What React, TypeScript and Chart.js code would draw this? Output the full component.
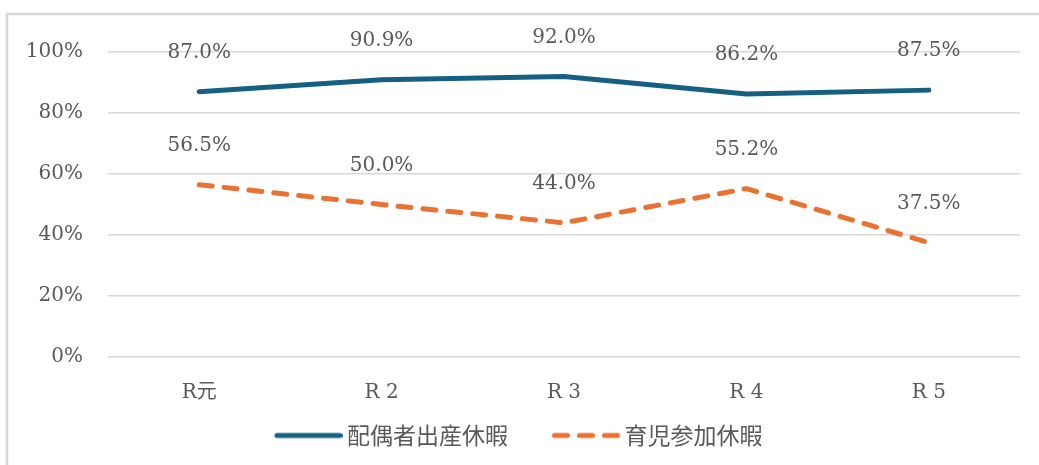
import { useEffect, useRef } from "react";
import { Chart, registerables } from "chart.js";

Chart.register(...registerables);

// Fiscal years (Reiwa era) and take-up rates in percent
const categories = ["R元", "R 2", "R 3", "R 4", "R 5"];
const spouseBirthLeave = [87.0, 90.9, 92.0, 86.2, 87.5];
const childcareLeave = [56.5, 50.0, 44.0, 55.2, 37.5];
const seriesNames = ["配偶者出産休暇", "育児参加休暇"];
const yMin = 0;
const yMax = 100;
const yStep = 20;

const BLUE = "#156082";
const ORANGE = "#E97132";
const TEXT = "#595959";
const GRID = "#D9D9D9";
const SERIF = "'DejaVu Serif', 'Noto Sans CJK JP', serif";
const CJK = "'Noto Sans CJK JP', sans-serif";

const WIDTH = 1039;
const HEIGHT = 465;

const LINE_WIDTH = 5;
const DASH = [13, 12];

// Legend symbol: a short stroke in the series style, drawn into its own canvas.
// The legend centres the image in a box of LEGEND_BOX px; the stroke sits at its right end.
const LEGEND_BOX = 88;
const SYMBOL_LEN = 68;
function makeSymbol(color: string, dash: number[]): HTMLCanvasElement {
  const w = 102;
  const h = 8;
  const c = document.createElement("canvas");
  c.width = w;
  c.height = h;
  const ctx = c.getContext("2d")!;
  ctx.strokeStyle = color;
  ctx.lineWidth = LINE_WIDTH;
  ctx.lineCap = "round";
  ctx.setLineDash(dash);
  ctx.beginPath();
  ctx.moveTo(w - SYMBOL_LEN + LINE_WIDTH / 2, h / 2);
  ctx.lineTo(w - LINE_WIDTH / 2, h / 2);
  ctx.stroke();
  return c;
}

// Light frame along the top and left edges of the chart box
const framePlugin = {
  id: "frame",
  beforeDraw(chart: Chart) {
    const ctx = chart.ctx;
    ctx.save();
    ctx.strokeStyle = GRID;
    ctx.lineWidth = 2.5;
    ctx.beginPath();
    ctx.moveTo(7, HEIGHT);
    ctx.lineTo(7, 14);
    ctx.lineTo(WIDTH, 14);
    ctx.stroke();
    ctx.restore();
  },
};

// Percentage label above every point
const valueLabelPlugin = {
  id: "valueLabels",
  afterDatasetsDraw(chart: Chart) {
    const ctx = chart.ctx;
    ctx.save();
    ctx.font = `20px ${SERIF}`;
    ctx.fillStyle = TEXT;
    ctx.textAlign = "center";
    ctx.textBaseline = "middle";
    chart.data.datasets.forEach((ds, i) => {
      const meta = chart.getDatasetMeta(i);
      meta.data.forEach((pt, j) => {
        const v = ds.data[j] as number;
        ctx.fillText(`${v.toFixed(1)}%`, pt.x, pt.y - 39);
      });
    });
    ctx.restore();
  },
};

export default function App() {
  const canvasRef = useRef<HTMLCanvasElement | null>(null);

  useEffect(() => {
    const canvas = canvasRef.current;
    if (!canvas) return;
    const symbols = [makeSymbol(BLUE, []), makeSymbol(ORANGE, DASH)];
    const chart = new Chart(canvas, {
      type: "line",
      data: {
        labels: categories,
        datasets: [
          {
            label: seriesNames[0],
            data: spouseBirthLeave,
            borderColor: BLUE,
            backgroundColor: BLUE,
            borderWidth: LINE_WIDTH,
            borderCapStyle: "round",
            borderJoinStyle: "round",
            pointRadius: 0,
            pointHoverRadius: 0,
            tension: 0,
            fill: false,
          },
          {
            label: seriesNames[1],
            data: childcareLeave,
            borderColor: ORANGE,
            backgroundColor: ORANGE,
            borderWidth: LINE_WIDTH,
            borderDash: DASH,
            borderCapStyle: "round",
            borderJoinStyle: "round",
            pointRadius: 0,
            pointHoverRadius: 0,
            tension: 0,
            fill: false,
          },
        ],
      },
      options: {
        responsive: false,
        animation: false,
        // left padding is negative so the legend row centres slightly left; the y axis width compensates
        layout: { padding: { top: 52, right: 19, bottom: 8, left: -10 } },
        scales: {
          x: {
            offset: true,
            grid: { display: false, drawTicks: false },
            border: { display: false },
            ticks: {
              color: TEXT,
              font: { family: SERIF, size: 20 },
              padding: 24,
              maxRotation: 0,
            },
            afterFit: (scale: any) => {
              scale.height = 50;
            },
          },
          y: {
            min: yMin,
            max: yMax,
            grid: { color: GRID, lineWidth: 1.5, drawTicks: false },
            border: { display: false },
            ticks: {
              stepSize: yStep,
              color: TEXT,
              font: { family: SERIF, size: 20 },
              padding: 25,
              callback: (v: any) => `${v}%`,
            },
            afterFit: (scale: any) => {
              scale.width = 118;
            },
          },
        },
        plugins: {
          legend: {
            position: "bottom",
            labels: {
              color: TEXT,
              font: { family: CJK, size: 23 },
              usePointStyle: true,
              pointStyleWidth: LEGEND_BOX,
              padding: 17,
              generateLabels: (c: Chart) =>
                c.data.datasets.map((ds, i) => ({
                  text: ds.label as string,
                  fillStyle: ds.borderColor as string,
                  strokeStyle: ds.borderColor as string,
                  lineWidth: 0,
                  pointStyle: symbols[i],
                  fontColor: TEXT,
                  hidden: false,
                  datasetIndex: i,
                })),
            },
          },
          tooltip: { enabled: false },
        },
      },
      plugins: [framePlugin, valueLabelPlugin],
    });
    return () => chart.destroy();
  }, []);

  return (
    <div style={{ position: "absolute", left: 0, top: 0, width: WIDTH, height: HEIGHT, background: "#fff" }}>
      <canvas ref={canvasRef} width={WIDTH} height={HEIGHT} style={{ display: "block" }} />
    </div>
  );
}
